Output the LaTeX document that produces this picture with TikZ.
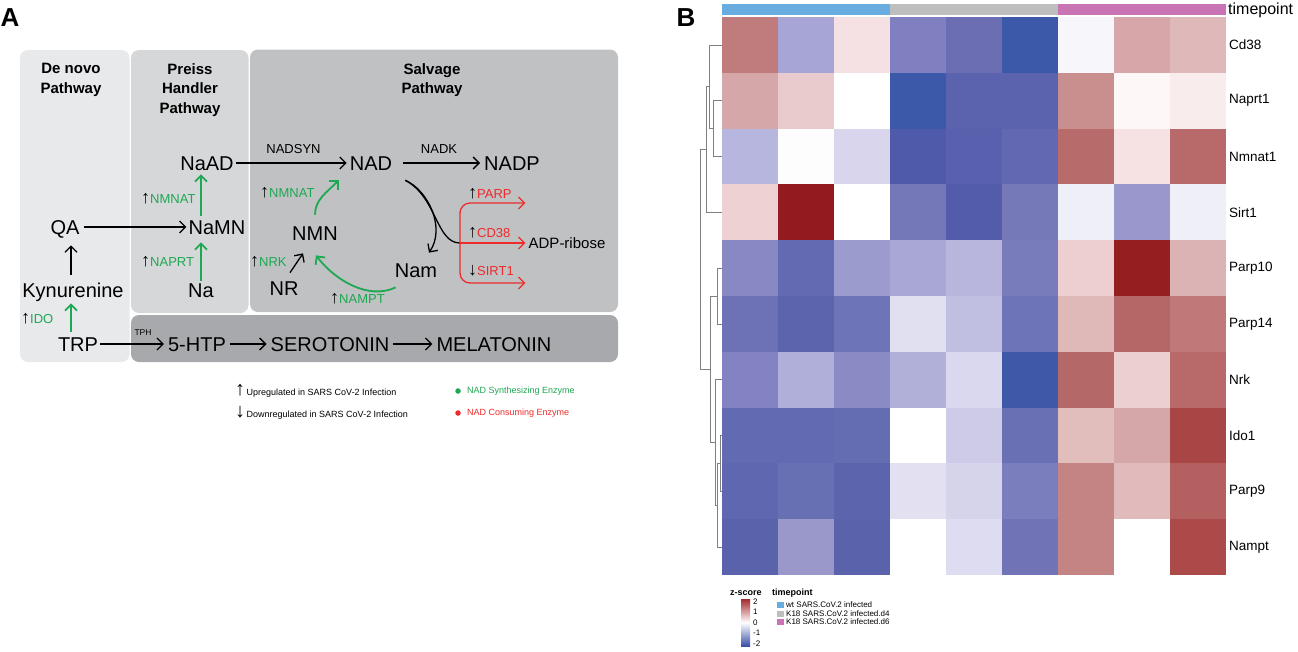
\documentclass[tikz,border=0pt]{standalone}
\usepackage{fontspec}
\setmainfont{Liberation Sans}
\usetikzlibrary{arrows.meta,calc}
\definecolor{gr}{HTML}{1DA851}
\definecolor{rd}{HTML}{EE2A2A}
\definecolor{pDenovo}{HTML}{E8E9EB}
\definecolor{pPreiss}{HTML}{D6D7D9}
\definecolor{pSalv}{HTML}{C0C1C3}
\definecolor{pSero}{HTML}{A8A9AC}
\definecolor{tpBlue}{HTML}{68ACE0}
\definecolor{tpGray}{HTML}{BEBEBE}
\definecolor{tpPink}{HTML}{C974B5}
\definecolor{zRed}{HTML}{A32A2E}
\definecolor{zBlue}{HTML}{3A50A8}
\newcommand{\upa}{{\fontsize{18}{18}\selectfont ↑}}
\newcommand{\dna}{{\fontsize{18}{18}\selectfont ↓}}
\begin{document}
\begin{tikzpicture}[x=1pt,y=-1pt,
  met/.style={font=\fontsize{20}{24}\selectfont, text height=14.3pt, text depth=0pt, inner sep=2pt},
  ttl/.style={font=\bfseries\fontsize{15}{19.5}\selectfont, align=center, inner sep=0pt},
  enz/.style={font=\fontsize{13}{15}\selectfont, text height=9.3pt, text depth=0pt, inner sep=0pt, anchor=west},
  blk/.style={line width=1.3pt, -{Straight Barb[length=6pt,width=12pt]}},
  gar/.style={draw=gr, line width=1.8pt, -{Straight Barb[length=6pt,width=12pt]}},
  rar/.style={draw=rd, line width=1.3pt, -{Straight Barb[length=6pt,width=12pt]}},
  panel/.style={rounded corners=8pt},
  dend/.style={draw=black!50, line width=0.7pt},
  rowlab/.style={font=\fontsize{13.5}{15}\selectfont, anchor=west, inner sep=0pt},
  leg/.style={font=\fontsize{9}{11}\selectfont, anchor=west, inner sep=0pt},
  hleg/.style={font=\fontsize{8}{9}\selectfont, anchor=west, inner sep=0pt}
]
\useasboundingbox (0,0) rectangle (1298,651);
\fill[white] (0,0) rectangle (1298,651);

% panel letters
\node[font=\bfseries\fontsize{26}{26}\selectfont, inner sep=0pt] (labA) at (10,18) {A};
\node[font=\bfseries\fontsize{26}{26}\selectfont, inner sep=0pt] (labB) at (686,18) {B};

% ---------- Panel A backgrounds ----------
\fill[pDenovo, panel] (20,50) rectangle (129.5,362);
\fill[pPreiss, panel] (131,50) rectangle (248.5,313);
\fill[pSalv, panel] (250,49.5) rectangle (618,312);
\fill[pSero, panel] (131,315) rectangle (618,362);

\node[ttl] (tDenovo) at (71,80) {De novo\\Pathway};
\node[ttl] (tPreiss) at (190,90) {Preiss\\Handler\\Pathway};
\node[ttl] (tSalv) at (432,80) {Salvage\\Pathway};

% ---------- metabolites ----------
\node[met] (NaAD) at (207,163) {NaAD};
\node[met] (NAD) at (371,163) {NAD};
\node[met] (NADP) at (512,163) {NADP};
\node[met] (NaMN) at (217,227) {NaMN};
\node[met] (QA) at (65,227) {QA};
\node[met] (NMN) at (315,233) {NMN};
\node[met] (Na) at (201,290) {Na};
\node[met] (NR) at (284,288) {NR};
\node[met] (Nam) at (416,270) {Nam};
\node[met] (Kyn) at (73,290) {Kynurenine};
\node[met] (TRP) at (78,344) {TRP};
\node[met] (HTP) at (197,344) {5-HTP};
\node[met] (SER) at (330,344) {SEROTONIN};
\node[met] (MEL) at (494,344) {MELATONIN};
\node[font=\fontsize{15}{18}\selectfont, text height=10.7pt, text depth=0pt, inner sep=2pt] (ADP) at (567,243) {ADP-ribose};

% ---------- black arrows ----------
\draw[blk, shorten >=1pt] (NaAD) -- (NAD);
\node[font=\fontsize{13}{15}\selectfont, inner sep=0pt] (lNADSYN) at (293.5,149) {NADSYN};
\draw[blk, shorten <=9pt, shorten >=2pt] (NAD) -- (NADP);
\node[font=\fontsize{13}{15}\selectfont, inner sep=0pt] (lNADK) at (439,149) {NADK};
\draw[blk, shorten <=2pt] (QA) -- (NaMN);
\coordinate (kx) at ($(Kyn.north)+(-2,0)$);
\draw[blk, shorten <=6pt, shorten >=9pt] (kx) -- (kx |- QA.south);
\draw[blk, shorten >=2pt] (TRP) -- (HTP);
\node[font=\fontsize{8.5}{10}\selectfont, inner sep=0pt] (lTPH) at (143,333) {TPH};
\draw[blk, shorten <=2pt, shorten >=2pt] (HTP) -- (SER);
\draw[blk, shorten <=2pt, shorten >=2pt] (SER) -- (MEL);
\draw[blk] ($(NR.north)+(6,-6)$) -- ($(NMN.south)+(-12,11)$);

% NAD -> ADP-ribose / Nam
\coordinate (nadout) at ($(NAD.south east)+(11,8)$);
\coordinate (br) at (460,243);
\coordinate (namtip) at ($(Nam.north)+(13,-8)$);
\draw[line width=1.3pt] (nadout) .. controls (437,197) and (436,243) .. (br);
\draw[blk] (nadout) .. controls (428,190) and (446,228) .. (namtip);

% red branches
\coordinate (parpE) at ($(ADP.west)+(-1,-40)$);
\coordinate (sirtE) at ($(ADP.west)+(-1,40)$);
\draw[rar, shorten >=1pt] (br) -- (ADP.west);
\draw[rar, rounded corners=10pt] (br) |- (parpE);
\draw[rar, rounded corners=10pt] (br) |- (sirtE);

% ---------- green arrows ----------
\coordinate (kxs) at ($(Kyn.south)+(-2,0)$);
\draw[gar, shorten <=3pt, shorten >=4pt] (kxs |- TRP.north) -- (kxs);
\draw[gar, shorten >=6pt] (Na.north) -- (Na.north |- NaMN.south);
\draw[gar, shorten <=2pt, shorten >=2pt] (Na.north |- NaMN.north) -- (Na.north |- NaAD.south);
\draw[gar] ($(NMN.north)+(0,-9)$) .. controls +(0,-15) and +(-12,12) .. ($(NAD.south west)+(-9,8)$);
\draw[gar] ($(Nam.south west)+(3,8)$) .. controls +(-27,13) and +(19,25) .. ($(NMN.south)+(1,13)$);

% ---------- enzyme labels ----------
\node[enz] (eIDO) at (21,319) {\upa\textcolor{gr}{IDO}};
\node[enz] (eNAPRT) at (141,261.5) {\upa\textcolor{gr}{NAPRT}};
\node[enz] (eNMNAT1) at (141,199) {\upa\textcolor{gr}{NMNAT}};
\node[enz] (eNMNAT2) at (260,193) {\upa\textcolor{gr}{NMNAT}};
\node[enz] (eNRK) at (250,262) {\upa\textcolor{gr}{NRK}};
\node[enz] (eNAMPT) at (330,299) {\upa\textcolor{gr}{NAMPT}};
\node[enz] (ePARP) at (468,194) {\upa\textcolor{rd}{PARP}};
\node[enz] (eCD38) at (468,233) {\upa\textcolor{rd}{CD38}};
\node[enz] (eSIRT) at (468,271) {\dna\textcolor{rd}{SIRT1}};

% ---------- panel A legend ----------
\node[leg] (lUp) at (235,391) {{\fontsize{20}{20}\selectfont ↑}\,Upregulated in SARS CoV-2 Infection};
\node[leg] (lDown) at (235,413) {{\fontsize{20}{20}\selectfont ↓}\,Downregulated in SARS CoV-2 Infection};
\node[circle, fill=gr, inner sep=0pt, minimum size=5.5pt] (gdot) at (458,391) {};
\node[leg, text=gr] (lSyn) at (467,391) {NAD Synthesizing Enzyme};
\node[circle, fill=rd, inner sep=0pt, minimum size=5.5pt] (rdot) at (458,413) {};
\node[leg, text=rd] (lCon) at (467,413) {NAD Consuming Enzyme};

% ---------- Panel B heatmap ----------
\fill[tpBlue] (722,4) rectangle (890,15);
\fill[tpGray] (890,4) rectangle (1058,15);
\fill[tpPink] (1058,4) rectangle (1226,15);
\node[font=\fontsize{16}{18}\selectfont, anchor=west, inner sep=0pt] (tpTop) at (1228,10) {timepoint};

\foreach \r/\cols in {
 0/{C07C7C,A7A5D6,F5E1E3,807FC0,6B6EB3,3C58A9,F7F7FB,D6A6A8,DFB9B9},
 1/{D6A7A9,E9CBCD,FFFFFF,3C58A9,5B62AE,5B62AE,C98F8F,FDF7F8,F9ECEC},
 2/{B6B6DE,FEFDFE,D8D5EC,505AAA,5960AE,6268B2,B86B6B,F7E2E3,B86A6A},
 3/{EED1D3,931A1E,FFFFFF,7478B8,535BAB,7579B8,EFEFF8,9997CC,EFEFF8},
 4/{8788C4,636AB2,9B9BCD,A8A7D6,B8B6DC,787CBA,EDCFD1,951E21,DBB3B4},
 5/{6D72B6,5C64AE,6E74B8,E1E0F1,C1BFE1,6E74B8,DFB9B7,B56666,C07878},
 6/{8383C3,B0AFD9,8A8AC4,B1B0D9,DAD8EE,4058A8,B56868,ECD0D1,B86A6A},
 7/{626AB2,626AB2,646CB2,FFFFFF,CDCBE8,6A70B4,E1BDBB,D6A7A8,A84646},
 8/{5F67B0,6870B4,5C64AE,E2E0F1,D6D4EB,7A7EBC,C48484,E1BBBB,B56060},
 9/{5A62AB,9A97CB,5A62AB,FFFFFF,DEDCF0,7074B6,C48484,FFFFFF,AC4A4A}}{
  \foreach \c [count=\i from 0] in \cols {
    \definecolor{hm}{HTML}{\c}
    \fill[hm] ({722+56*\i},{17+55.8*\r}) rectangle ++(56.4,56.2);
  }
}

\foreach \n [count=\i from 0] in {Cd38,Naprt1,Nmnat1,Sirt1,Parp10,Parp14,Nrk,Ido1,Parp9,Nampt}
  \node[rowlab] (row\i) at (1229,{44.9+55.8*\i}) {\n};

% dendrogram
\draw[dend] (722,100.7) -| (713.3,156.5) -- (722,156.5);
\draw[dend] (722,44.9) -| (709.3,128.6) -- (713.3,128.6);
\draw[dend] (709.3,86.75) -| (706,212.3) -- (722,212.3);
\draw[dend] (722,268.1) -| (717.3,323.9) -- (722,323.9);
\draw[dend] (722,435.5) -| (720,491.3) -- (722,491.3);
\draw[dend] (720,463.4) -| (717.2,547.1) -- (722,547.1);
\draw[dend] (722,379.7) -| (715.3,505.25) -- (717.2,505.25);
\draw[dend] (717.3,296) -| (710.7,442.5) -- (715.3,442.5);
\draw[dend] (706,149.5) -| (700,369.25) -- (710.7,369.25);

% heatmap legend
\node[font=\bfseries\fontsize{9}{10}\selectfont, anchor=west, inner sep=0pt] (zTitle) at (730,593) {z-score};
\node[font=\bfseries\fontsize{9}{10}\selectfont, anchor=west, inner sep=0pt] (tpTitle) at (772,593) {timepoint};
\shade[top color=zRed, bottom color=zBlue, middle color=white] (741,599) rectangle (750,646);
\foreach \v/\yy in {2/601.5,1/612,0/622.5,-1/633,-2/643.5}
  \node[hleg] (zl\v) at (753,\yy) {\v};
\fill[tpBlue] (777,602) rectangle (783.5,608);
\fill[tpGray] (777,610.5) rectangle (783.5,616.5);
\fill[tpPink] (777,619) rectangle (783.5,625);
\node[hleg] (tl1) at (786,605) {wt SARS.CoV.2 infected};
\node[hleg] (tl2) at (786,613.5) {K18 SARS.CoV.2 infected.d4};
\node[hleg] (tl3) at (786,622) {K18 SARS.CoV.2 infected.d6};
\end{tikzpicture}
\end{document}
